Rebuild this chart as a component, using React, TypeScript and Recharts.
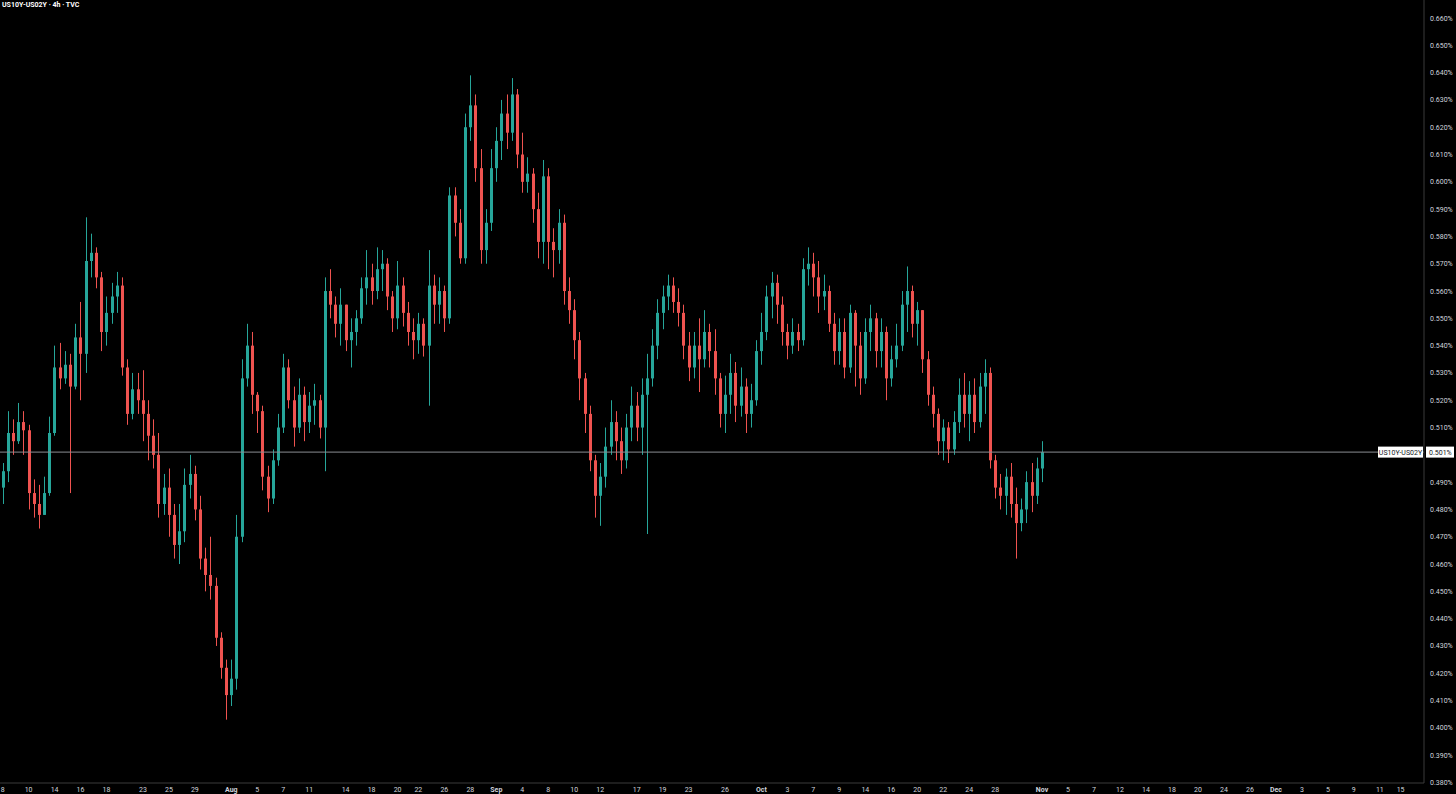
import { ComposedChart, Bar, XAxis, YAxis, ReferenceLine } from 'recharts';

const symbol = 'US10Y-US02Y';
const title = 'US10Y-US02Y · 4h · TVC';
const lastValue = 0.501;

// 4h candles (values in %); open = previous close
const firstOpen = 0.488;
const closes = [
  0.494, 0.508, 0.505, 0.512, 0.509, 0.486, 0.482, 0.478, 0.486, 0.508,
  0.532, 0.528, 0.533, 0.525, 0.543, 0.537, 0.571, 0.574, 0.565, 0.545,
  0.552, 0.558, 0.562, 0.532, 0.515, 0.524, 0.520, 0.515, 0.507, 0.500,
  0.482, 0.488, 0.478, 0.467, 0.472, 0.489, 0.493, 0.480, 0.462, 0.456,
  0.452, 0.433, 0.422, 0.412, 0.418, 0.470, 0.528, 0.540, 0.522, 0.516,
  0.492, 0.484, 0.498, 0.510, 0.532, 0.520, 0.510, 0.522, 0.512, 0.518,
  0.520, 0.510, 0.560, 0.555, 0.548, 0.555, 0.542, 0.545, 0.550, 0.561,
  0.565, 0.560, 0.568, 0.570, 0.558, 0.550, 0.562, 0.552, 0.545, 0.542,
  0.548, 0.540, 0.562, 0.555, 0.560, 0.550, 0.595, 0.585, 0.572, 0.620,
  0.628, 0.605, 0.575, 0.585, 0.605, 0.615, 0.625, 0.618, 0.632, 0.610,
  0.600, 0.603, 0.590, 0.578, 0.602, 0.578, 0.575, 0.585, 0.560, 0.553,
  0.542, 0.528, 0.515, 0.498, 0.485, 0.492, 0.503, 0.512, 0.505, 0.498,
  0.510, 0.518, 0.510, 0.522, 0.528, 0.540, 0.552, 0.558, 0.562, 0.556,
  0.552, 0.540, 0.532, 0.540, 0.535, 0.545, 0.538, 0.528, 0.515, 0.522,
  0.530, 0.518, 0.525, 0.515, 0.520, 0.538, 0.545, 0.558, 0.563, 0.555,
  0.545, 0.540, 0.545, 0.542, 0.568, 0.570, 0.565, 0.558, 0.560, 0.548,
  0.538, 0.545, 0.532, 0.552, 0.540, 0.528, 0.545, 0.550, 0.538, 0.545,
  0.528, 0.535, 0.540, 0.555, 0.560, 0.548, 0.553, 0.535, 0.522, 0.515,
  0.505, 0.510, 0.502, 0.512, 0.522, 0.515, 0.522, 0.512, 0.525, 0.530,
  0.498, 0.488, 0.485, 0.492, 0.482, 0.475, 0.480, 0.490, 0.485, 0.495, 0.501,
];
const highs = [
  0.497, 0.516, 0.513, 0.519, 0.516, 0.511, 0.491, 0.489, 0.492, 0.514,
  0.540, 0.541, 0.538, 0.537, 0.548, 0.556, 0.587, 0.581, 0.576, 0.567,
  0.558, 0.563, 0.567, 0.565, 0.535, 0.530, 0.530, 0.531, 0.520, 0.513,
  0.508, 0.493, 0.495, 0.482, 0.482, 0.495, 0.500, 0.496, 0.485, 0.466,
  0.470, 0.455, 0.435, 0.425, 0.425, 0.478, 0.535, 0.548, 0.545, 0.523,
  0.518, 0.496, 0.502, 0.515, 0.537, 0.535, 0.525, 0.528, 0.525, 0.523,
  0.526, 0.522, 0.565, 0.568, 0.558, 0.561, 0.555, 0.550, 0.553, 0.565,
  0.575, 0.570, 0.576, 0.575, 0.572, 0.560, 0.571, 0.565, 0.556, 0.550,
  0.552, 0.550, 0.575, 0.566, 0.565, 0.562, 0.598, 0.598, 0.590, 0.625,
  0.639, 0.632, 0.612, 0.590, 0.612, 0.620, 0.630, 0.632, 0.638, 0.634,
  0.618, 0.609, 0.605, 0.596, 0.608, 0.605, 0.583, 0.590, 0.588, 0.565,
  0.557, 0.545, 0.530, 0.518, 0.500, 0.497, 0.510, 0.520, 0.516, 0.510,
  0.515, 0.525, 0.523, 0.528, 0.537, 0.546, 0.557, 0.562, 0.566, 0.565,
  0.561, 0.555, 0.545, 0.545, 0.550, 0.553, 0.548, 0.546, 0.530, 0.529,
  0.537, 0.534, 0.532, 0.528, 0.526, 0.542, 0.552, 0.562, 0.567, 0.566,
  0.558, 0.548, 0.550, 0.548, 0.572, 0.576, 0.574, 0.571, 0.566, 0.562,
  0.552, 0.550, 0.550, 0.555, 0.553, 0.545, 0.550, 0.555, 0.552, 0.550,
  0.547, 0.540, 0.548, 0.560, 0.569, 0.562, 0.556, 0.553, 0.538, 0.525,
  0.517, 0.513, 0.512, 0.516, 0.528, 0.530, 0.527, 0.528, 0.530, 0.535,
  0.532, 0.500, 0.493, 0.495, 0.497, 0.488, 0.484, 0.494, 0.497, 0.499, 0.505,
];
const lows = [
  0.482, 0.490, 0.500, 0.504, 0.500, 0.480, 0.477, 0.473, 0.478, 0.485,
  0.507, 0.524, 0.526, 0.486, 0.524, 0.520, 0.530, 0.565, 0.561, 0.538,
  0.540, 0.548, 0.552, 0.529, 0.511, 0.513, 0.515, 0.505, 0.498, 0.495,
  0.477, 0.478, 0.470, 0.462, 0.460, 0.468, 0.484, 0.476, 0.458, 0.450,
  0.447, 0.430, 0.418, 0.403, 0.408, 0.414, 0.468, 0.525, 0.515, 0.508,
  0.487, 0.479, 0.482, 0.496, 0.508, 0.517, 0.503, 0.508, 0.505, 0.508,
  0.511, 0.506, 0.494, 0.550, 0.543, 0.540, 0.538, 0.532, 0.540, 0.548,
  0.555, 0.555, 0.557, 0.560, 0.553, 0.545, 0.546, 0.547, 0.540, 0.535,
  0.537, 0.536, 0.518, 0.548, 0.548, 0.545, 0.548, 0.580, 0.570, 0.570,
  0.615, 0.600, 0.570, 0.570, 0.582, 0.600, 0.608, 0.612, 0.615, 0.605,
  0.596, 0.596, 0.585, 0.572, 0.570, 0.568, 0.565, 0.570, 0.555, 0.548,
  0.535, 0.520, 0.508, 0.494, 0.477, 0.474, 0.488, 0.500, 0.498, 0.493,
  0.495, 0.505, 0.505, 0.500, 0.471, 0.525, 0.535, 0.546, 0.553, 0.552,
  0.547, 0.535, 0.527, 0.528, 0.523, 0.532, 0.532, 0.522, 0.510, 0.508,
  0.515, 0.512, 0.514, 0.508, 0.510, 0.518, 0.533, 0.542, 0.550, 0.548,
  0.540, 0.535, 0.537, 0.538, 0.540, 0.562, 0.558, 0.552, 0.553, 0.545,
  0.533, 0.533, 0.528, 0.530, 0.525, 0.522, 0.526, 0.538, 0.532, 0.532,
  0.520, 0.525, 0.532, 0.538, 0.545, 0.543, 0.540, 0.530, 0.518, 0.510,
  0.500, 0.498, 0.497, 0.500, 0.508, 0.510, 0.505, 0.508, 0.510, 0.515,
  0.495, 0.484, 0.480, 0.478, 0.477, 0.462, 0.472, 0.475, 0.479, 0.482, 0.490,
];
// empty 4h slots to the right of the last candle (Nov – Dec)
const futureSlots = 73;

// bottom axis: slot index -> label
const xTickIndex = [
  0, 5, 10, 15, 20, 27, 32, 37, 44, 49, 54, 59, 66, 71, 76, 80, 85, 90,
  95, 100, 105, 110, 115, 122, 127, 132, 139, 146, 151, 156, 161, 166, 171, 176,
  181, 186, 191, 200, 205, 210, 215, 220, 225, 230, 235, 240, 245, 250, 255, 260,
  265, 269,
];
const xTickLabels = [
  '8', '10', '14', '16', '18', '23', '25', '29', 'Aug', '5', '7', '11', '14', '18', '20', '22', '26', '28',
  'Sep', '4', '8', '10', '12', '17', '19', '23', '26', 'Oct', '3', '7', '9', '14', '16', '20',
  '22', '24', '28', 'Nov', '5', '7', '12', '14', '18', '20', '24', '26', 'Dec', '3', '5', '9',
  '11', '15',
];
const monthLabels = ['Aug', 'Sep', 'Oct', 'Nov', 'Dec'];
const yTicks = [
  0.38, 0.39, 0.4, 0.41, 0.42, 0.43, 0.44, 0.45, 0.46, 0.47, 0.48, 0.49,
  0.51, 0.52, 0.53, 0.54, 0.55, 0.56, 0.57, 0.58, 0.59, 0.6, 0.61, 0.62, 0.63, 0.64, 0.65, 0.66,
];

const UP = '#26a69a';
const DOWN = '#ef5350';
const TEXT = '#d1d4dc';
const AXIS = '#3a3a3a';
const FONT = 'Roboto, "Noto Sans", sans-serif';

const data = Array.from({ length: closes.length + futureSlots }, (_, i) =>
  i < closes.length
    ? { i, open: i === 0 ? firstOpen : closes[i - 1], close: closes[i], high: highs[i], low: lows[i] }
    : { i, open: null, close: null, high: null, low: null }
);

const labelByIndex = new Map(xTickIndex.map((idx, k) => [idx, xTickLabels[k]]));

const Candle = (props: any) => {
  const { x, y, width, height, payload } = props;
  if (!payload || payload.close == null) return null;
  const { open, close, high, low } = payload;
  const top = Math.min(y, y + height);
  const h = Math.abs(height);
  const k = high === low ? 0 : h / (high - low);
  const yO = top + (high - open) * k;
  const yC = top + (high - close) * k;
  const color = close >= open ? UP : DOWN;
  const c = Math.round(x + width / 2);
  return (
    <g>
      <line x1={c + 0.5} x2={c + 0.5} y1={top} y2={top + h} stroke={color} strokeWidth={1} />
      <rect x={c - 1} y={Math.min(yO, yC)} width={3} height={Math.max(1, Math.abs(yC - yO))} fill={color} />
    </g>
  );
};

const XTick = (props: any) => {
  const { x, y, payload } = props;
  const label = labelByIndex.get(payload.value) ?? '';
  return (
    <text x={x} y={y + 9} textAnchor="middle" fill={TEXT} fontSize={7} fontFamily={FONT}
      fontWeight={monthLabels.includes(label) ? 700 : 400}>
      {label}
    </text>
  );
};

const LastLabel = (props: any) => {
  const { viewBox } = props;
  if (!viewBox) return null;
  const right = viewBox.x + viewBox.width;
  const yy = viewBox.y;
  return (
    <g fontFamily={FONT} fontSize={7}>
      <rect x={right - 46} y={yy - 5.5} width={45} height={11} fill="#ffffff" />
      <text x={right - 23.5} y={yy + 2.5} textAnchor="middle" fill="#131722">{symbol}</text>
      <rect x={right + 2} y={yy - 5.5} width={28} height={11} fill="#ffffff" />
      <text x={right + 5} y={yy + 2.5} fill="#131722">{lastValue.toFixed(3)}%</text>
    </g>
  );
};

export default function App() {
  return (
    <div style={{ position: 'fixed', left: 0, top: 0, width: 1456, height: 794, background: '#000', overflow: 'hidden' }}>
      <div style={{ position: 'absolute', left: 2, top: 1, color: '#fff', fontSize: 7, fontWeight: 700, fontFamily: FONT, zIndex: 2 }}>
        {title}
      </div>
      <ComposedChart width={1456} height={794} data={data} margin={{ top: 0, right: 0, bottom: 0, left: 0 }}>
        <XAxis
          dataKey="i"
          type="category"
          ticks={xTickIndex}
          interval={0}
          tick={<XTick />}
          tickLine={false}
          tickSize={0}
          tickMargin={0}
          axisLine={{ stroke: AXIS }}
          height={11}
        />
        <YAxis
          orientation="right"
          width={32}
          type="number"
          domain={[0.3798, 0.6666]}
          allowDataOverflow
          ticks={yTicks}
          tickFormatter={(v: number) => `${v.toFixed(3)}%`}
          tick={{ fill: TEXT, fontSize: 7, fontFamily: FONT }}
          tickLine={false}
          tickSize={0}
          tickMargin={6}
          axisLine={{ stroke: AXIS }}
        />
        <ReferenceLine y={lastValue} stroke="#8a8d93" strokeWidth={1} label={<LastLabel />} />
        <Bar
          dataKey={(d: any) => (d.close == null ? null : [d.low, d.high])}
          shape={<Candle />}
          isAnimationActive={false}
        />
      </ComposedChart>
    </div>
  );
}
